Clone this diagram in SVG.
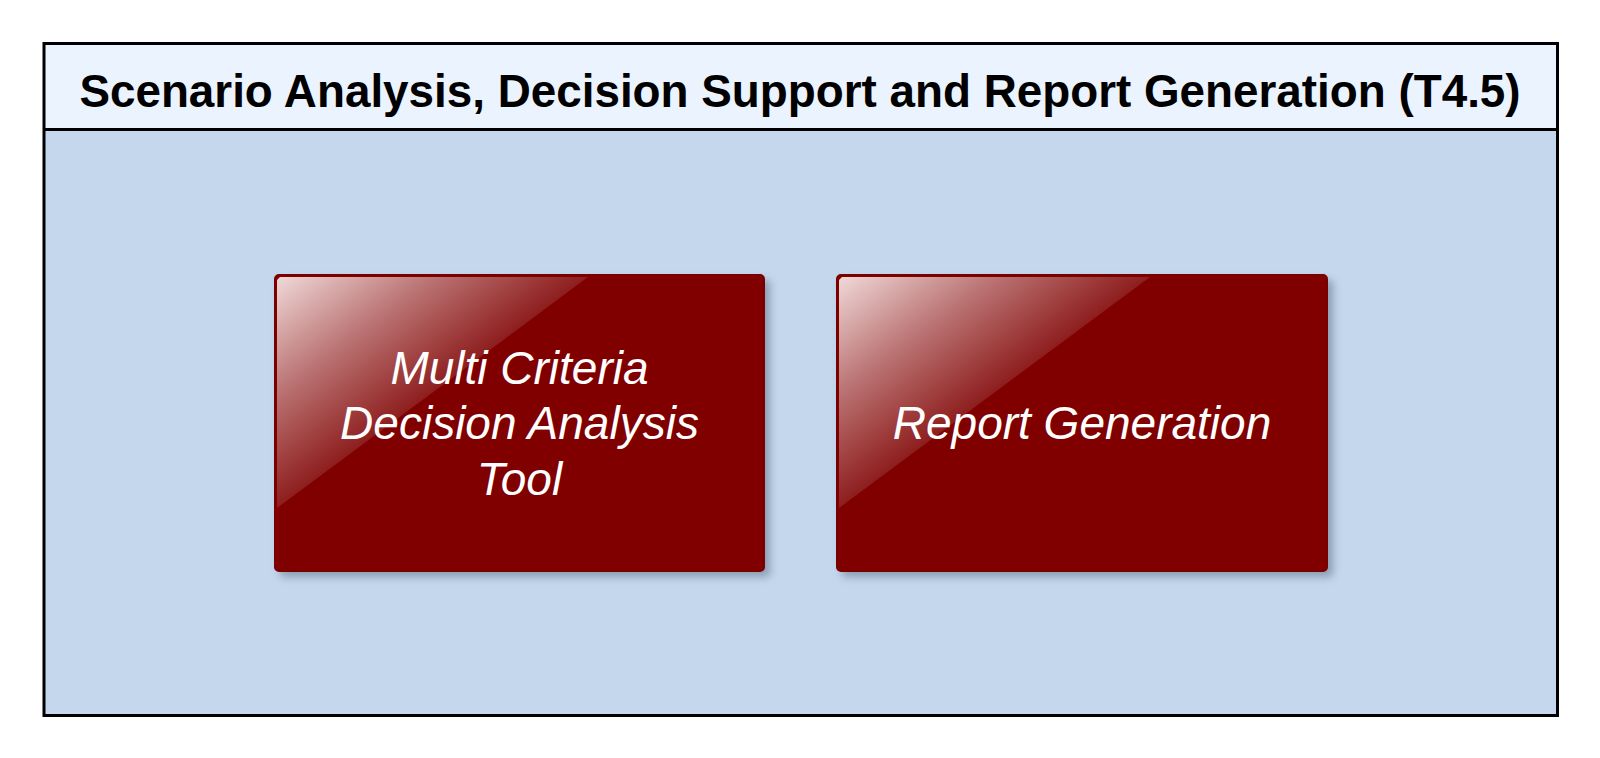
<svg xmlns="http://www.w3.org/2000/svg" width="1600" height="758" viewBox="0 0 1600 758">
  <style>
    .frame { fill: none; stroke: #000; stroke-width: 3; }
    .title { font-family: "Liberation Sans", Arial, sans-serif; font-weight: bold; font-size: 45.8px; fill: #000; text-anchor: middle; }
    .box { fill: #800000; stroke: #7a0000; stroke-width: 2; }
    .label { font-family: "Liberation Sans", Arial, sans-serif; font-style: italic; font-size: 46px; fill: #fff; text-anchor: middle; }
  </style>
  <defs>
    <filter id="shadow" x="-10%" y="-10%" width="130%" height="130%">
      <feGaussianBlur stdDeviation="4"/>
    </filter>
    <!-- the highlight's diagonal edge sits at the gradient midpoint -->
    <linearGradient id="gloss" x1="0" y1="0" x2="1" y2="1">
      <stop offset="0" stop-color="#f0d8d8"/>
      <stop offset="0.25" stop-color="#bb7474"/>
      <stop offset="0.5" stop-color="#8e1e1e"/>
    </linearGradient>
  </defs>
  <rect width="1600" height="758" fill="#fff"/>
  <!-- container -->
  <g id="container">
    <rect x="44" y="129.5" width="1513.5" height="586" fill="#c4d7ec"/>
    <rect x="44" y="43.5" width="1513.5" height="86" fill="#eaf3fe"/>
    <rect class="frame" x="44" y="43.5" width="1513.5" height="672"/>
    <line x1="44" y1="129.5" x2="1557.5" y2="129.5" stroke="#000" stroke-width="3"/>
    <text class="title" x="800" y="107">Scenario Analysis, Decision Support and Report Generation (T4.5)</text>
  </g>
  <!-- nodes -->
  <g id="mcda">
    <rect x="280" y="280" width="490" height="297" rx="4" fill="#7d8fa3" opacity="0.8" filter="url(#shadow)"/>
    <rect class="box" x="275" y="275" width="489" height="296" rx="4"/>
    <path d="M280,277 L588,277 L277,508 L277,280 Z" fill="url(#gloss)"/>
    <text class="label" x="519.5" y="384">Multi Criteria</text>
    <text class="label" x="519.5" y="439">Decision Analysis</text>
    <text class="label" x="519.5" y="495">Tool</text>
  </g>
  <g id="report">
    <rect x="842" y="280" width="491" height="297" rx="4" fill="#7d8fa3" opacity="0.8" filter="url(#shadow)"/>
    <rect class="box" x="837" y="275" width="490" height="296" rx="4"/>
    <path d="M842,277 L1150,277 L839,508 L839,280 Z" fill="url(#gloss)"/>
    <text class="label" x="1082" y="439">Report Generation</text>
  </g>
  <g id="connectors"/>
</svg>
